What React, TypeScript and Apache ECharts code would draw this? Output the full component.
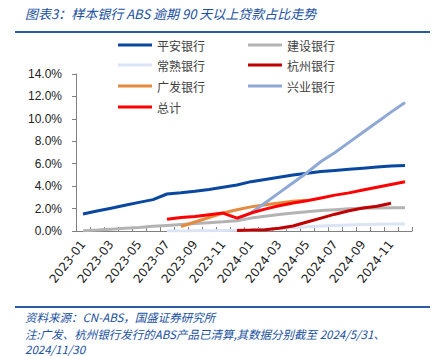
import React, { useEffect, useRef } from "react";
import * as echarts from "echarts";

const months = [
  "2023-01","2023-02","2023-03","2023-04","2023-05","2023-06","2023-07","2023-08","2023-09","2023-10","2023-11","2023-12",
  "2024-01","2024-02","2024-03","2024-04","2024-05","2024-06","2024-07","2024-08","2024-09","2024-10","2024-11","2024-12",
];
const yTicks = [0, 2, 4, 6, 8, 10, 12, 14];

const pingan = [1.52,1.78,2.03,2.29,2.55,2.8,3.3,3.42,3.55,3.7,3.9,4.1,4.4,4.6,4.8,5.0,5.15,5.3,5.4,5.5,5.6,5.7,5.8,5.85];
const jianshe = [0.02,0.08,0.16,0.24,0.32,0.42,0.5,0.58,0.66,0.74,0.82,0.92,1.15,1.32,1.48,1.6,1.72,1.82,1.9,1.98,2.02,2.05,2.07,2.08];
const changshu = [null,null,null,null,null,null,0.0,0.01,0.02,0.03,0.04,0.06,0.1,0.15,0.22,0.3,0.38,0.45,0.5,0.54,0.57,0.6,0.62,0.63];
const hangzhou = [null,null,null,null,null,null,null,null,null,null,null,0.05,0.08,0.12,0.25,0.45,0.8,1.15,1.5,1.8,2.05,2.2,2.47,null];
const guangfa = [null,null,null,null,null,null,null,0.4,0.8,1.2,1.6,1.9,2.15,2.35,2.5,2.65,2.75,null,null,null,null,null,null,null];
const xingye = [null,null,null,null,null,null,null,null,null,null,null,1.1,1.6,2.5,3.4,4.3,5.2,6.2,7.0,7.9,8.8,9.7,10.6,11.45];
const total = [null,null,null,null,null,null,1.04,1.2,1.3,1.45,1.6,1.15,1.6,1.95,2.25,2.5,2.7,2.95,3.2,3.4,3.65,3.9,4.15,4.4];

const seriesDefs = [
  { name: "平安银行", data: pingan, color: "#0a47a0" },
  { name: "建设银行", data: jianshe, color: "#b3b3b3" },
  { name: "常熟银行", data: changshu, color: "#dce3f3" },
  { name: "杭州银行", data: hangzhou, color: "#c00000" },
  { name: "广发银行", data: guangfa, color: "#e58b3f" },
  { name: "兴业银行", data: xingye, color: "#8fa9d6" },
  { name: "总计", data: total, color: "#ff0000" },
];

const legendRows = [
  ["平安银行", "建设银行"],
  ["常熟银行", "杭州银行"],
  ["广发银行", "兴业银行"],
  ["总计"],
];

const titleText = "图表3：样本银行 ABS 逾期 90 天以上贷款占比走势";
const sourceText = "资料来源：CN-ABS，国盛证券研究所";
const noteText1 = "注:广发、杭州银行发行的ABS产品已清算,其数据分别截至 2024/5/31、";
const noteText2 = "2024/11/30";

export default function App() {
  const ref = useRef<HTMLDivElement>(null);
  useEffect(() => {
    if (!ref.current) return;
    const chart = echarts.init(ref.current, null, { renderer: "svg" });
    const font = "'Noto Sans CJK SC', 'Liberation Sans', sans-serif";
    const legendTops = [39, 59, 80, 101];
    const footStyle = { fontSize: 11.5, fontStyle: "italic", fill: "#2050a0", fontFamily: font, verticalAlign: "middle" };
    const option: any = {
      animation: false,
      backgroundColor: "#ffffff",
      textStyle: { fontFamily: font },
      grid: { left: 76, right: 34, top: 74, bottom: 125, containLabel: false },
      legend: legendRows.map((row, i) => ({
        data: row,
        left: 118,
        top: legendTops[i],
        orient: "horizontal",
        icon: "rect",
        itemWidth: 34,
        itemHeight: 3,
        itemGap: 43,
        textStyle: { fontSize: 12, color: "#404040", fontFamily: font },
        padding: 0,
        selectedMode: false,
      })),
      xAxis: {
        type: "category",
        data: months,
        boundaryGap: true,
        axisLine: { show: true, lineStyle: { color: "#808080", width: 1 } },
        axisTick: { show: true, inside: true, length: 4, interval: 0, lineStyle: { color: "#808080" } },
        axisLabel: {
          interval: 1,
          rotate: 52,
          fontSize: 12,
          color: "#222",
          fontFamily: "'DejaVu Sans', 'Liberation Sans', sans-serif",
          margin: 11,
        },
        splitLine: { show: false },
      },
      yAxis: {
        type: "value",
        min: 0,
        max: 14,
        interval: 2,
        axisLine: { show: true, lineStyle: { color: "#808080", width: 1 } },
        axisTick: { show: true, inside: false, length: 4, lineStyle: { color: "#808080" } },
        axisLabel: {
          formatter: (v: number) => (yTicks.includes(v) ? v.toFixed(1) + "%" : ""),
          fontSize: 12,
          color: "#222",
          fontFamily: "'Liberation Sans', 'DejaVu Sans', sans-serif",
          margin: 14,
        },
        splitLine: { show: false },
      },
      series: seriesDefs.map((s) => ({
        name: s.name,
        type: "line",
        data: s.data,
        showSymbol: false,
        symbol: "none",
        connectNulls: false,
        smooth: false,
        lineStyle: { color: s.color, width: 3 },
        itemStyle: { color: s.color },
        emphasis: { disabled: true },
      })),
      graphic: [
        {
          type: "text",
          x: 25,
          y: 13,
          style: {
            text: titleText,
            fontSize: 13,
            fontStyle: "italic",
            fill: "#2050a0",
            fontFamily: font,
            verticalAlign: "middle",
          },
        },
        { type: "rect", shape: { x: 15, y: 31, width: 415, height: 2 }, style: { fill: "#2a5aa8" } },
        { type: "rect", shape: { x: 15, y: 306, width: 415, height: 2 }, style: { fill: "#2a5aa8" } },
        { type: "text", x: 25, y: 317, style: { ...footStyle, text: sourceText } },
        { type: "text", x: 25, y: 334, style: { ...footStyle, text: noteText1 } },
        { type: "text", x: 25, y: 349, style: { ...footStyle, text: noteText2 } },
      ],
    };
    chart.setOption(option);
    return () => chart.dispose();
  }, []);
  return <div ref={ref} style={{ width: 446, height: 356, position: "absolute", left: 0, top: 0 }} />;
}
